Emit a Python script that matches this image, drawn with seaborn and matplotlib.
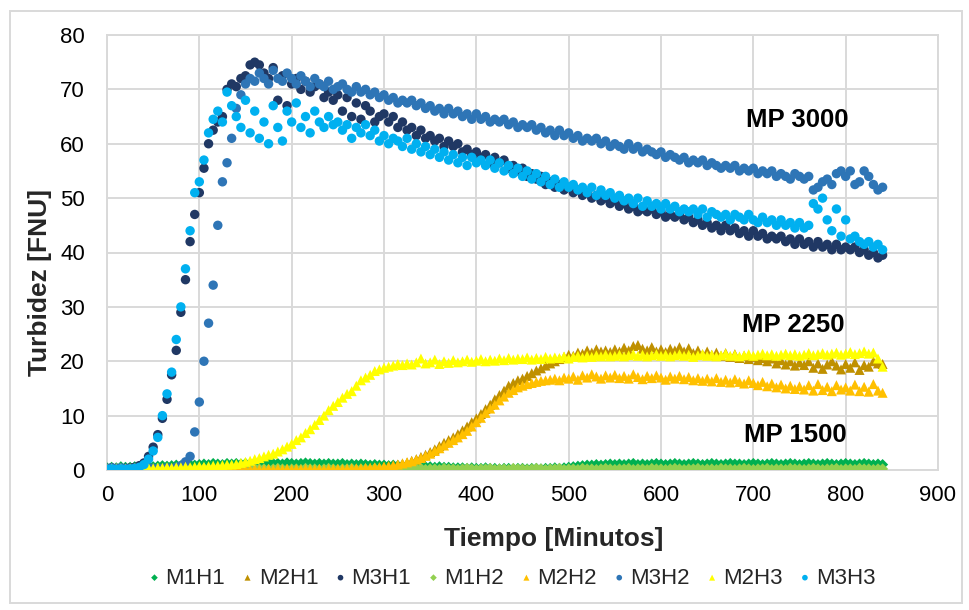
import matplotlib
matplotlib.use("Agg")
import matplotlib.pyplot as plt
import seaborn as sns
from matplotlib.patches import Rectangle

# Time axis (minutes), one reading every 5 minutes
minutes = list(range(0, 845, 5))

M1H1 = [0.4,0.5,0.4,0.6,0.5,0.5,0.6,0.5,0.6,0.7,
        0.6,0.7,0.8,0.7,0.8,0.9,0.8,0.9,1.0,0.9,
        1.0,1.1,1.0,1.2,1.1,1.0,1.2,1.1,1.2,1.1,
        1.2,1.1,1.3,1.2,1.1,1.3,1.2,1.2,1.1,1.3,
        1.2,1.1,1.2,1.3,1.2,1.1,1.2,1.1,1.2,1.1,
        1.1,1.2,1.0,1.1,1.0,1.1,1.0,0.9,1.0,0.9,
        0.9,0.8,0.9,0.8,0.8,0.7,0.8,0.7,0.7,0.6,
        0.6,0.5,0.6,0.5,0.5,0.4,0.4,0.4,0.3,0.4,
        0.3,0.3,0.4,0.3,0.3,0.2,0.3,0.3,0.2,0.3,
        0.3,0.2,0.3,0.3,0.2,0.3,0.3,0.4,0.3,0.4,
        0.5,0.6,0.7,0.8,0.9,0.9,1.0,0.9,1.0,1.1,
        1.0,1.1,1.0,1.1,1.2,1.0,1.1,1.0,1.1,1.2,
        1.1,1.0,1.1,1.2,1.1,1.0,1.1,1.2,1.1,1.0,
        1.1,1.2,1.1,1.0,1.1,1.2,1.1,1.1,1.0,1.1,
        1.2,1.1,1.0,1.1,1.2,1.1,1.0,1.1,1.2,1.1,
        1.0,1.1,1.2,1.1,1.0,1.1,1.2,1.1,1.0,1.1,
        1.2,1.1,1.0,1.1,1.2,1.1,1.0,1.1,1.0]

M2H1 = [0.2,0.1,0.2,0.1,0.2,0.1,0.2,0.1,0.2,0.1,
        0.2,0.1,0.2,0.1,0.2,0.1,0.2,0.2,0.1,0.2,
        0.1,0.2,0.1,0.2,0.1,0.2,0.1,0.2,0.1,0.2,
        0.2,0.1,0.2,0.2,0.1,0.2,0.2,0.1,0.2,0.2,
        0.2,0.1,0.2,0.2,0.2,0.1,0.2,0.2,0.2,0.2,
        0.2,0.2,0.3,0.2,0.3,0.3,0.3,0.4,0.4,0.5,
        0.6,0.7,0.9,1.0,1.2,1.4,1.7,2.0,2.4,2.8,
        3.3,3.8,4.4,5.0,5.5,6.0,6.6,7.3,8.0,8.8,
        9.5,10.3,11.2,12.0,13.0,13.8,14.6,15.5,16.0,16.5,
        16.8,17.3,17.8,18.3,18.7,19.2,19.6,20.0,20.4,20.8,
        21.2,21.0,21.6,21.4,22.0,21.6,22.2,21.8,22.0,21.7,
        22.2,21.8,22.5,22.0,22.8,23.0,22.3,22.0,22.6,21.8,
        22.2,21.7,22.3,22.0,22.6,21.8,22.4,21.5,22.0,21.3,
        21.8,21.2,21.6,21.0,21.5,20.8,21.3,20.6,21.0,20.4,
        20.8,20.2,20.6,20.0,20.5,19.6,20.2,19.4,20.0,19.2,
        19.8,19.3,20.0,18.8,19.6,18.6,19.4,20.0,19.2,18.5,
        19.5,18.8,19.8,18.4,19.3,19.0,20.0,19.6,19.5]

M3H1 = [0.3,0.4,0.3,0.2,0.3,0.4,0.5,0.8,1.3,2.5,
        4.2,6.5,9.5,13.0,17.5,22.0,29.0,35.0,42.0,47.0,
        51.0,55.5,60.0,62.5,64.0,65.0,70.0,71.0,70.5,72.0,
        72.5,74.5,75.0,74.5,73.0,72.0,74.0,68.0,72.5,67.0,
        71.0,72.0,70.0,71.5,69.5,70.5,71.0,68.5,69.5,68.0,
        69.0,66.0,68.5,65.0,67.5,64.5,67.0,66.0,64.0,65.0,
        65.5,64.0,65.0,63.0,64.0,62.5,63.0,61.5,62.5,61.0,
        61.5,60.5,61.0,59.5,60.5,59.5,60.0,58.5,59.0,58.0,
        58.5,57.5,58.0,56.5,57.5,56.5,57.0,55.5,56.0,55.0,
        55.5,54.0,54.5,53.5,54.0,52.5,53.0,52.0,52.5,51.5,
        52.0,51.0,51.5,50.5,51.0,50.0,50.5,49.5,50.0,49.0,
        49.5,48.5,49.0,48.0,48.5,47.5,48.0,47.5,48.0,47.0,
        47.5,46.5,47.0,46.5,47.0,46.0,46.5,45.5,46.0,45.0,
        45.5,44.5,45.0,44.0,45.0,44.0,44.5,43.5,44.0,43.0,
        44.0,43.0,43.5,42.5,43.0,42.5,43.0,42.0,42.5,41.5,
        42.5,41.5,42.0,41.0,42.0,41.0,41.5,40.5,41.5,40.5,
        41.0,40.5,41.0,40.0,40.5,39.5,40.0,39.0,39.5]

M1H2 = [0.2,0.1,0.3,0.2,0.1,0.2,0.3,0.2,0.1,0.2,
        0.2,0.3,0.1,0.2,0.2,0.1,0.3,0.2,0.2,0.1,
        0.2,0.3,0.2,0.1,0.2,0.2,0.3,0.1,0.2,0.2,
        0.1,0.2,0.3,0.2,0.2,0.1,0.2,0.3,0.2,0.1,
        0.2,0.2,0.1,0.3,0.2,0.2,0.1,0.2,0.3,0.2,
        0.1,0.2,0.2,0.3,0.1,0.2,0.2,0.1,0.3,0.2,
        0.2,0.1,0.2,0.3,0.2,0.1,0.2,0.2,0.3,0.1,
        0.2,0.2,0.1,0.3,0.2,0.2,0.1,0.2,0.3,0.2,
        0.1,0.2,0.2,0.3,0.1,0.2,0.2,0.1,0.3,0.2,
        0.2,0.1,0.2,0.3,0.2,0.1,0.2,0.2,0.3,0.1,
        0.2,0.2,0.1,0.3,0.2,0.2,0.1,0.2,0.3,0.2,
        0.1,0.2,0.2,0.3,0.1,0.2,0.2,0.1,0.3,0.2,
        0.2,0.1,0.2,0.3,0.2,0.1,0.2,0.2,0.3,0.1,
        0.2,0.2,0.1,0.3,0.2,0.2,0.1,0.2,0.3,0.2,
        0.1,0.2,0.2,0.3,0.1,0.2,0.2,0.1,0.3,0.2,
        0.2,0.1,0.2,0.3,0.2,0.1,0.2,0.2,0.3,0.1,
        0.2,0.2,0.1,0.3,0.2,0.2,0.1,0.2,0.2]

M2H2 = [0.1,0.2,0.1,0.1,0.2,0.1,0.2,0.1,0.1,0.2,
        0.1,0.1,0.2,0.1,0.2,0.1,0.1,0.2,0.1,0.2,
        0.1,0.2,0.1,0.1,0.2,0.1,0.2,0.1,0.2,0.1,
        0.2,0.1,0.2,0.1,0.1,0.2,0.1,0.2,0.1,0.2,
        0.1,0.2,0.1,0.2,0.2,0.1,0.2,0.1,0.2,0.2,
        0.2,0.2,0.2,0.3,0.3,0.3,0.4,0.4,0.5,0.5,
        0.6,0.7,0.8,1.0,1.2,1.4,1.6,1.9,2.2,2.6,
        3.0,3.5,4.0,4.5,5.0,5.5,6.0,6.6,7.2,8.0,
        8.8,9.6,10.5,11.3,12.0,12.8,13.5,14.2,14.7,15.2,
        15.5,15.8,16.0,16.2,16.4,16.5,16.6,16.8,16.5,17.0,
        16.8,17.2,16.6,17.4,17.0,17.6,17.2,16.8,17.4,17.0,
        17.5,16.9,17.3,16.8,17.6,17.1,16.7,17.3,16.9,17.4,
        17.0,16.6,17.2,16.8,17.3,16.7,17.1,16.5,16.9,16.4,
        16.8,16.3,16.9,16.2,16.6,16.1,16.7,16.2,15.9,16.5,
        16.0,15.6,16.2,15.4,15.9,15.2,15.7,15.0,15.5,14.9,
        15.4,14.8,15.6,14.6,15.8,14.7,15.3,14.5,15.6,14.8,
        15.2,14.6,15.7,14.5,15.3,14.4,15.8,14.6,14.2]

M3H2 = [0.3,0.4,0.3,0.4,0.3,0.2,0.3,0.4,0.3,0.4,
        0.3,0.2,0.3,0.4,0.3,0.5,0.8,1.5,2.5,7.0,
        12.5,20.0,27.0,34.0,45.0,53.0,56.5,61.0,66.5,69.0,
        71.0,72.0,71.5,73.0,72.0,71.0,73.5,72.0,71.5,73.0,
        72.0,71.0,72.5,71.5,70.5,72.0,71.0,70.5,71.5,70.0,
        70.5,71.0,70.0,69.5,70.5,69.5,70.0,69.0,69.5,68.5,
        69.0,68.0,68.5,67.5,68.0,67.5,68.0,67.0,67.5,66.5,
        67.0,66.0,66.5,65.5,66.5,65.5,66.0,65.0,65.5,64.5,
        65.5,64.5,65.0,64.0,64.5,64.0,64.5,63.5,64.0,63.0,
        63.5,63.0,63.5,62.5,63.0,62.0,62.5,61.5,62.5,61.5,
        62.0,61.0,61.5,60.5,61.0,60.5,61.0,60.0,60.5,59.5,
        60.0,59.5,59.0,60.0,59.0,59.5,58.5,59.0,58.5,58.0,
        58.5,57.5,58.0,57.5,57.0,57.5,56.5,57.0,56.5,57.0,
        56.0,56.5,56.0,55.5,56.0,55.5,56.0,55.0,55.5,55.0,
        55.5,54.5,55.0,54.5,55.0,54.0,54.5,54.0,53.5,54.5,
        54.0,53.5,54.0,51.5,52.0,53.0,53.5,52.5,54.5,55.0,
        54.0,55.0,52.5,53.0,55.0,54.0,52.5,51.5,52.0]

M2H3 = [0.2,0.3,0.2,0.3,0.2,0.3,0.2,0.3,0.3,0.4,
        0.3,0.4,0.4,0.5,0.4,0.5,0.5,0.6,0.5,0.6,
        0.7,0.6,0.7,0.8,0.8,0.9,1.0,1.0,1.1,1.3,
        1.5,1.7,2.0,2.2,2.5,2.8,3.0,3.4,3.8,4.3,
        4.8,5.5,6.0,6.8,7.5,8.3,9.2,10.0,11.0,11.8,
        12.5,13.3,14.0,14.5,15.5,16.5,17.0,17.5,18.2,18.5,
        18.8,19.0,19.2,19.5,19.3,19.6,19.4,19.8,20.5,19.6,
        19.8,20.3,19.5,20.0,19.7,20.2,19.8,20.0,20.3,19.9,
        20.1,20.4,20.0,20.3,20.1,20.5,20.2,20.6,20.3,20.5,
        20.4,20.7,20.3,20.6,20.4,20.8,20.5,20.7,20.6,20.9,
        20.5,20.8,21.0,20.7,21.0,20.8,21.1,20.9,21.2,20.9,
        21.0,21.2,20.9,21.1,21.3,21.0,21.2,20.9,21.1,21.3,
        21.0,21.2,20.9,21.1,21.3,21.0,21.2,20.8,21.1,21.3,
        21.0,21.2,20.9,21.1,21.4,21.0,21.2,20.9,21.1,21.3,
        21.0,21.2,21.4,21.1,21.3,21.0,21.2,21.4,21.1,21.3,
        21.0,21.2,21.5,21.1,21.3,21.5,21.2,21.4,21.6,21.2,
        21.4,21.7,21.3,21.5,21.8,21.4,21.6,20.5,19.0]

M3H3 = [0.1,0.2,0.1,0.2,0.1,0.2,0.3,0.5,1.0,2.0,
        3.5,6.0,10.0,14.0,18.0,24.0,30.0,37.0,44.0,51.0,
        53.0,57.0,62.0,64.5,66.0,64.0,69.5,67.0,65.0,63.0,
        68.0,62.0,66.0,61.0,64.0,60.0,67.0,63.0,60.5,66.0,
        64.0,67.5,63.0,65.0,62.0,66.0,64.0,63.0,65.0,63.5,
        64.0,62.5,63.5,61.0,63.0,62.0,63.5,61.5,62.5,60.5,
        61.5,60.0,61.0,60.5,59.5,61.0,59.0,60.0,58.5,59.5,
        58.0,59.0,57.5,58.5,57.0,58.0,56.5,57.5,56.0,57.5,
        56.5,57.0,56.0,57.0,55.5,56.5,55.0,56.0,54.5,55.5,
        54.0,55.0,53.5,54.5,53.0,54.0,52.5,53.5,52.0,53.0,
        52.0,52.5,51.5,52.0,51.0,52.0,50.5,51.5,50.5,51.0,
        50.0,50.5,49.5,50.0,49.0,50.0,48.5,49.5,48.5,49.0,
        48.0,49.0,48.0,48.5,47.5,48.0,47.5,48.0,47.0,48.0,
        46.5,47.5,47.0,46.5,47.0,46.0,47.0,46.5,46.0,47.0,
        46.0,45.5,46.5,45.5,46.0,45.0,46.0,45.0,45.5,44.5,
        45.5,44.5,45.0,49.0,48.0,50.0,46.0,44.0,48.0,43.0,
        46.0,42.5,43.0,42.0,41.5,42.0,41.0,41.5,40.5]

series_names = ["M1H1", "M2H1", "M3H1", "M1H2", "M2H2", "M3H2", "M2H3", "M3H3"]
series_values = [M1H1, M2H1, M3H1, M1H2, M2H2, M3H2, M2H3, M3H3]
series_colors = ["#00B050", "#BF9000", "#203864", "#92D050", "#FFC000", "#2E75B6", "#FFFF00", "#00B0F0"]
series_markers = ["D", "^", "o", "D", "^", "o", "^", "o"]
series_sizes = [32, 52, 46, 32, 52, 46, 52, 46]

x_ticks = [0, 100, 200, 300, 400, 500, 600, 700, 800, 900]
y_ticks = [0, 10, 20, 30, 40, 50, 60, 70, 80]

annotations = [("MP 3000", 748, 64.4), ("MP 2250", 743, 26.7), ("MP 1500", 746, 6.4)]

sns.set_theme(style="white")
plt.rcParams['font.family'] = ['Liberation Sans', 'DejaVu Sans']

W, H = 970, 610
fig = plt.figure(figsize=(W / 100, H / 100), dpi=100)
ax = fig.add_axes([107 / W, 1 - 470 / H, (938 - 107) / W, (470 - 35) / H])

for i, (name, vals, col, mk, sz) in enumerate(zip(series_names, series_values, series_colors,
                                                  series_markers, series_sizes)):
    sns.scatterplot(x=minutes, y=vals, ax=ax, color=col, marker=mk, s=sz,
                    linewidth=0, edgecolor="none", label=name, zorder=3 + i)

ax.set_xlim(0, 900)
ax.set_ylim(0, 80)
ax.set_xticks(x_ticks)
ax.set_yticks(y_ticks)
ax.grid(True, color="#D9D9D9", linewidth=1.4)
ax.set_axisbelow(True)
for sp in ax.spines.values():
    sp.set_color("#D9D9D9")
    sp.set_linewidth(1.4)
ax.tick_params(axis="both", length=0, labelsize=16, colors="#000000")
ax.tick_params(axis="y", pad=16)
ax.tick_params(axis="x", pad=11)
ax.set_xlabel("")
ax.set_ylabel("")

for txt, xv, yv in annotations:
    ax.text(xv, yv, txt, ha="center", va="center", fontsize=18.5, fontweight="bold", color="#000000")

fig.text(554 / W, 1 - 539 / H, "Tiempo [Minutos]", ha="center", va="center",
         fontsize=19, fontweight="bold")
fig.text(40 / W, 1 - 282 / H, "Turbidez [FNU]", ha="center", va="center",
         fontsize=19, fontweight="bold", rotation=90)

handles, labels = ax.get_legend_handles_labels()
ax.legend(handles, labels, loc="center", bbox_to_anchor=(510 / W, 1 - 578 / H),
          bbox_transform=fig.transFigure, ncol=8, frameon=False, fontsize=16,
          markerscale=0.6, handletextpad=0.05, columnspacing=0.55, handlelength=0.9,
          borderpad=0.2)

fig.patches.append(Rectangle((10 / W, 1 - 603 / H), (962 - 10) / W, (603 - 11) / H,
                             transform=fig.transFigure, fill=False,
                             edgecolor="#D9D9D9", linewidth=1.4))

fig.savefig("out.png", dpi=100)
